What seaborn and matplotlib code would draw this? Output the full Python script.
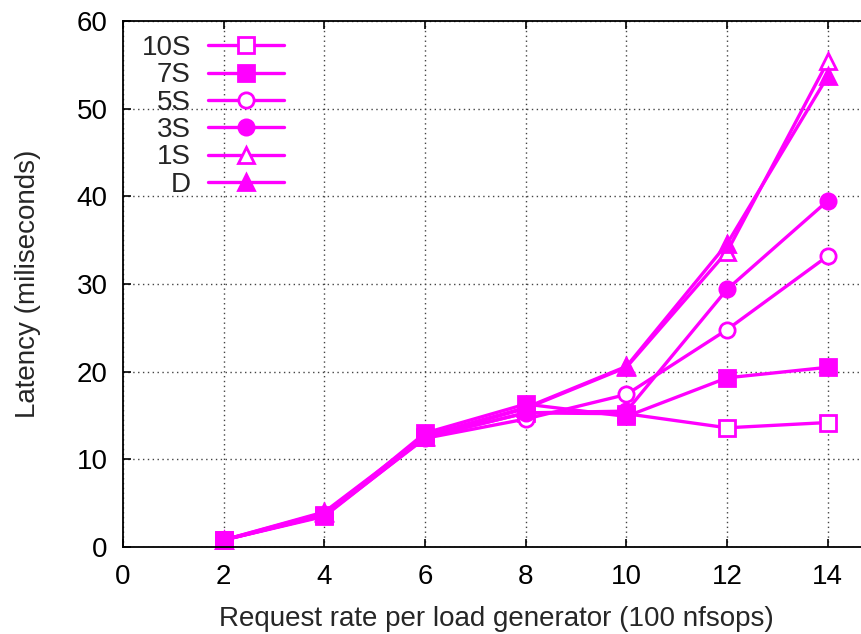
import matplotlib
matplotlib.use("Agg")
import matplotlib.pyplot as plt
import seaborn as sns
import pandas as pd

x_vals = [2, 4, 6, 8, 10, 12, 14]
series_names = ["10S", "7S", "5S", "3S", "1S", "D"]
lat_10S = [0.8, 3.5, 12.5, 15.3, 15.2, 13.6, 14.2]
lat_7S = [0.8, 3.6, 13.0, 16.3, 14.9, 19.3, 20.5]
lat_5S = [0.8, 3.6, 12.4, 14.6, 17.4, 24.8, 33.2]
lat_3S = [0.8, 3.7, 12.5, 15.3, 15.5, 29.4, 39.5]
lat_1S = [0.8, 3.9, 12.6, 15.8, 20.5, 33.7, 55.4]
lat_D = [0.8, 4.0, 12.7, 15.9, 20.6, 34.6, 53.7]
values = [lat_10S, lat_7S, lat_5S, lat_3S, lat_1S, lat_D]

markers = ["s", "s", "o", "o", "^", "^"]
filled = [False, True, False, True, False, True]

sns.set_theme(style="white")
plt.rcParams["font.family"] = ["Liberation Sans", "DejaVu Sans"]

fig = plt.figure(figsize=(8.62, 6.34), dpi=100)
ax = fig.add_axes([0.1427, 0.1372, 0.8573 + 0.01, 0.8297])

mag = "#ff00ff"
for name, vals, m, f in zip(series_names, values, markers, filled):
    df = pd.DataFrame({"x": x_vals, "y": vals})
    sns.lineplot(data=df, x="x", y="y", ax=ax, color=mag, linewidth=2.4,
                 marker=m, markersize=11, markeredgewidth=2.0,
                 markeredgecolor=mag, markerfacecolor=(mag if f else "white"),
                 label=name, clip_on=False)

ax.set_xlim(0, 14.85)
ax.set_ylim(0, 60)
ax.set_xticks(range(0, 15, 2))
ax.set_yticks(range(0, 61, 10))
ax.grid(True, color="#444444", linestyle=(0, (1, 2.5)), linewidth=1.0)
ax.tick_params(axis="both", direction="in", length=6, width=1.2, labelsize=20,
               colors="black", top=True, bottom=True, left=True, right=False)
ax.tick_params(axis="x", pad=12)
ax.tick_params(axis="y", pad=11)
for s in ["left", "bottom", "top"]:
    ax.spines[s].set_visible(True)
    ax.spines[s].set_color("black")
    ax.spines[s].set_linewidth(1.3)
ax.spines["right"].set_visible(False)

ax.set_xlabel("Request rate per load generator (100 nfsops)", fontsize=20, labelpad=12)
ax.set_ylabel("Latency (miliseconds)", fontsize=20, labelpad=26)

leg = ax.legend(loc="upper left", bbox_to_anchor=(0.0, 1.0), frameon=False,
                markerfirst=False, fontsize=20, handlelength=2.75,
                labelspacing=0.05, handletextpad=0.6, borderaxespad=0.2,
                borderpad=0.3)
leg.set_bbox_to_anchor((0.006, 1.0), transform=ax.transAxes)
for t in leg.get_texts():
    t.set_ha("right")
    t.set_position((0, 0))
fig.savefig("out.png", dpi=100)
